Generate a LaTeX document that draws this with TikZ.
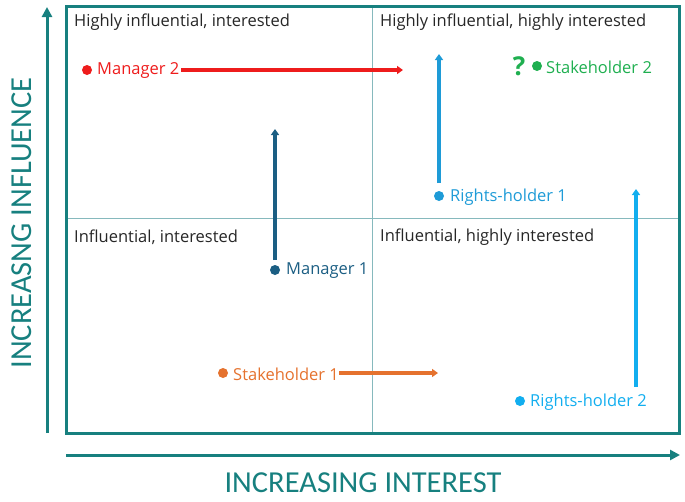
\documentclass[tikz,border=0pt]{standalone}
\usepackage{fontspec}
\setmainfont{Open Sans}
\newfontfamily\axisfont{Carlito}
\usetikzlibrary{arrows.meta}
\definecolor{teal1}{HTML}{17807F}
\definecolor{tealthin}{HTML}{86B9BD}
\definecolor{cred}{HTML}{EE1C1C}
\definecolor{cgreen}{HTML}{1FAF50}
\definecolor{crh1}{HTML}{1E9BD7}
\definecolor{crh2}{HTML}{12AEEF}
\definecolor{cm1}{HTML}{1B5E83}
\definecolor{corange}{HTML}{E5722E}
\definecolor{ctext}{HTML}{262626}
\begin{document}
\begin{tikzpicture}[x=1pt,y=-1pt,
  quad/.style={anchor=west,inner sep=0pt,font=\fontsize{16.5}{19}\selectfont,text=ctext},
  lab/.style={anchor=west,inner sep=0pt,font=\fontsize{16.5}{19}\selectfont},
  pdot/.style={circle,fill,inner sep=0pt,minimum size=10pt},
  move/.style={line width=4pt,-{Triangle[length=6pt,width=8pt]}},
  axis/.style={line width=3pt,teal1,-{Triangle[length=10pt,width=10pt]}},
  axlab/.style={text=teal1,font=\axisfont\fontsize{30.5}{33}\selectfont,inner sep=0pt}]
\useasboundingbox (0,0) rectangle (685,501);
% grid
\draw[tealthin,line width=1pt] (372,6) -- (372,433);
\draw[tealthin,line width=1pt] (66,218) -- (679,218);
\draw[teal1,line width=3pt] (66,6) rectangle (679,433);
% axes
\coordinate (ya) at (47,433);
\coordinate (yb) at (47,7);
\coordinate (xa) at (66,455);
\coordinate (xb) at (680,455);
\draw[axis] (ya) -- (yb);
\draw[axis] (xa) -- (xb);
\node[axlab,rotate=90] (ylab) at (22,223) {INCREASNG INFLUENCE};
\node[axlab] (xlab) at (363,483) {INCREASING INTEREST};
% quadrant labels
\node[quad] (q1) at (74,22) {Highly influential, interested};
\node[quad] (q2) at (380,22) {Highly influential, highly interested};
\node[quad] (q3) at (74,237) {Influential, interested};
\node[quad] (q4) at (380,237) {Influential, highly interested};
% Manager 2
\node[pdot,cred] (m2d) at (87,70) {};
\node[lab,text=cred] (m2) at (97,71) {Manager 2};
\coordinate (m2s) at (181,70);
\coordinate (m2e) at (403,70);
\draw[move,cred] (m2s) -- (m2e);
% Stakeholder 2
\node[inner sep=0pt,text=cgreen,font=\bfseries\fontsize{26}{29}\selectfont] (q) at (519,66) {?};
\node[pdot,cgreen] (s2d) at (537,66) {};
\node[lab,text=cgreen] (s2) at (546,67) {Stakeholder 2};
% Rights-holder 1
\node[pdot,crh1] (r1d) at (439,196) {};
\node[lab,text=crh1] (r1) at (450,197) {Rights-holder 1};
\coordinate (r1s) at (439,183);
\coordinate (r1e) at (439,54);
\draw[move,crh1] (r1s) -- (r1e);
% Manager 1
\node[pdot,cm1] (m1d) at (275,270) {};
\node[lab,text=cm1] (m1) at (286,271) {Manager 1};
\coordinate (m1s) at (275,260);
\coordinate (m1e) at (275,129);
\draw[move,cm1] (m1s) -- (m1e);
% Stakeholder 1
\node[pdot,corange] (s1d) at (223,373) {};
\node[lab,text=corange] (s1) at (233,374) {Stakeholder 1};
\coordinate (s1s) at (339,373);
\coordinate (s1e) at (438,373);
\draw[move,corange] (s1s) -- (s1e);
% Rights-holder 2
\node[pdot,crh2] (r2d) at (520,401) {};
\node[lab,text=crh2] (r2) at (530,402) {Rights-holder 2};
\coordinate (r2s) at (636,387);
\coordinate (r2e) at (636,189);
\draw[move,crh2] (r2s) -- (r2e);
\end{tikzpicture}
\end{document}
